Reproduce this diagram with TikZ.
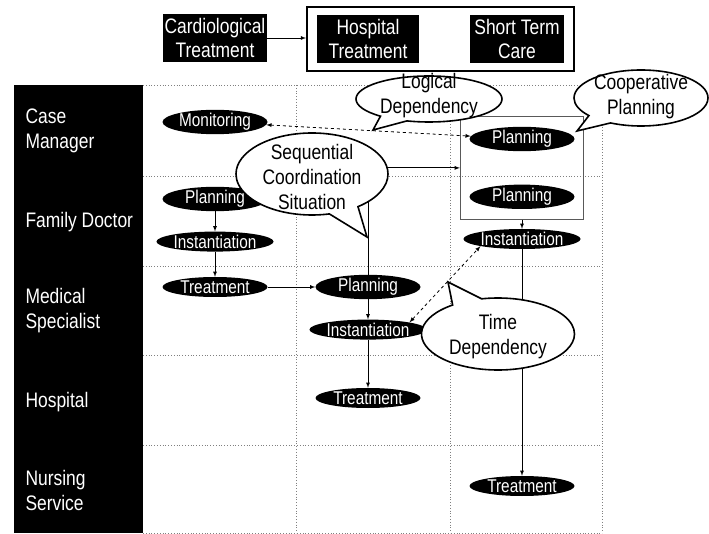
\documentclass[tikz,border=0pt]{standalone}
\usepackage{fontspec}
\setmainfont{Liberation Sans}[FakeStretch=0.83]
\usetikzlibrary{positioning}
\usetikzlibrary{shapes.geometric}
\usetikzlibrary{shapes.callouts}
\usetikzlibrary{fit}
\usetikzlibrary{arrows.meta}

\begin{document}
\begin{tikzpicture}[x=1pt, y=-1pt,
    B/.style={fill=black, text=white, align=center, minimum width=104pt, minimum height=48pt, inner sep=1pt, font=\fontsize{21}{24}\selectfont},
    E/.style={ellipse, fill=black, text=white, minimum width=105pt, minimum height=20pt, inner sep=0pt, font=\fontsize{18.5}{20}\selectfont},
    L/.style={anchor=west, text=white, align=left, font=\fontsize{21}{25}\selectfont},
    Q/.style={ellipse callout, draw, fill=white, line width=1.6pt, inner sep=0pt, callout pointer arc=24},
    T/.style={align=center, font=\fontsize{21}{25}\selectfont},
    A/.style={-latex, thick},
    D/.style={latex-latex, thick, dashed}]
    \useasboundingbox (0,0) rectangle (709,534);

    \foreach \y in {85,176,266,355,445,533}
        \draw[gray, dotted, thick] (143,\y) -- (602,\y);
    \foreach \x in {296,450,602}
        \draw[gray, dotted, thick] (\x,85) -- (\x,533);
    \fill (14,85) rectangle (143,533);

    \node[L] (cm) at (22,131) {Case\\Manager};
    \node[L] (fd) at (22,222) {Family Doctor};
    \node[L] (ms) at (22,311) {Medical\\Specialist};
    \node[L] (ho) at (22,402) {Hospital};
    \node[L] (ns) at (22,490) {Nursing\\Service};

    \node[B] (cardio) at (215,38) {Cardiological\\Treatment};
    \node[B, minimum width=102pt] (hosp) at (368,39) {Hospital\\Treatment};
    \node[B, minimum width=94pt] (stc) at (517,39) {Short Term\\Care};
    \node[fit=(hosp)(stc), draw, line width=1.6pt, inner xsep=10pt, inner ysep=8pt] (stay) {};
    \draw[A] (cardio.east) -- (cardio.east -| stay.west);

    \node[E] (mon) at (215,122) {Monitoring};
    \node[E] (planFD) at (215,199) {Planning};
    \node[E, below=20pt of planFD] (instFD) {Instantiation};
    \node[E] (treatFD) at (215,287) {Treatment};
    \node[E] (planMS) at (368,287) {Planning};
    \node[E, below=20pt of planMS] (instMS) {Instantiation};
    \node[E] (treatH) at (368,398) {Treatment};
    \node[E] (planCM) at (522,139) {Planning};
    \node[E, below=33pt of planCM] (planCM2) {Planning};
    \node[E] (instR) at (522,239) {Instantiation};
    \node[E] (treatNS) at (522,486) {Treatment};
    \node[fit=(planCM)(planCM2), draw=gray!70!black, thick, inner xsep=9pt, inner ysep=10pt] (coop) {};

    \draw[A] (planFD) -- (instFD);
    \draw[A] (instFD) -- (treatFD);
    \draw[A] (treatFD) -- (planMS);
    \draw[A] (planMS) -- (instMS);
    \draw[A] (instMS) -- (treatH);
    \draw[A] (planMS.north) |- (coop.west);
    \draw[A] (coop) -- (instR);
    \draw[A] (instR) -- (treatNS);
    \draw[D] (mon) -- (planCM);
    \draw[D] (instMS.north east) -- (instR.south west);

    \coordinate (tipLD) at (373,130);
    \coordinate (tipCP) at (577,131);
    \coordinate (tipSC) at (367,237);
    \coordinate (tipTD) at (448,282);
    \node[Q, minimum width=146pt, minimum height=46pt, callout absolute pointer=(tipLD)] (ld) at (429,99) {};
    \node[T] (ldt) at (429,96) {Logical\\Dependency};
    \node[Q, minimum width=134pt, minimum height=56pt, callout absolute pointer=(tipCP)] (cp) at (641,98) {};
    \node[T] (cpt) at (641,97) {Cooperative\\Planning};
    \node[Q, minimum width=152pt, minimum height=82pt, callout absolute pointer=(tipSC)] (sc) at (312,174) {};
    \node[T] (sct) at (312,177) {Sequential\\Coordination\\Situation};
    \node[Q, minimum width=153pt, minimum height=72pt, callout absolute pointer=(tipTD)] (td) at (498,334) {};
    \node[T] (tdt) at (498,337) {Time\\Dependency};
\end{tikzpicture}
\end{document}
